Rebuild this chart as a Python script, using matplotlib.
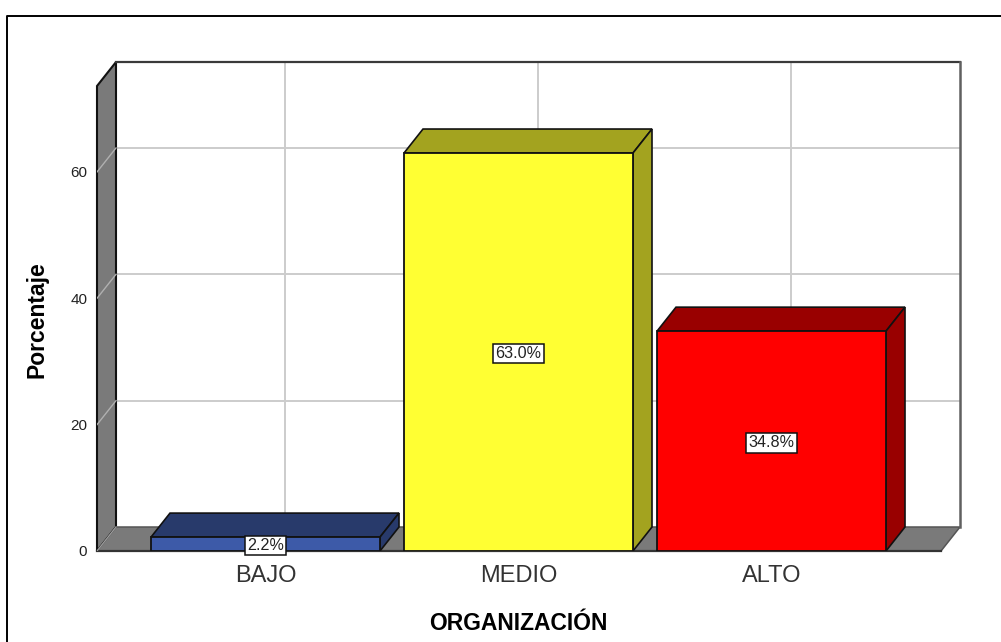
import matplotlib
matplotlib.use('Agg')
import matplotlib.pyplot as plt
from matplotlib.lines import Line2D
from matplotlib.patches import Polygon

plt.rcParams['font.family'] = ['Liberation Sans', 'DejaVu Sans']

# datos
categorias = ['BAJO', 'MEDIO', 'ALTO']
porcentajes = [2.2, 63.0, 34.8]
etiquetas = ['2.2%', '63.0%', '34.8%']
y_ticks = [0, 20, 40, 60]
col_frente = ['#3d5aa8', '#ffff33', '#ff0000']
col_lado = ['#283a6b', '#a3a31f', '#990000']

W, H = 1001, 642
fig = plt.figure(figsize=(W / 100, H / 100), dpi=100, facecolor='white')

# marco exterior: solo arriba y a la izquierda
fig.add_artist(Line2D([6.5 / W, 6.5 / W, 1], [0, 1 - 16 / H, 1 - 16 / H], transform=fig.transFigure,
                      color='black', linewidth=1.4))

# ejes en pixeles: izquierda 97, derecha 960, base 551, techo 62
ax = fig.add_axes([97 / W, 1 - 551 / H, 863 / W, 489 / H])
px_x = 253.0     # pixeles por categoria
px_y = 6.317     # pixeles por unidad
ax.set_xlim((97 - 265.5) / px_x, (960 - 265.5) / px_x)
ax.set_ylim(0, 489 / px_y)
dx = 19 / px_x   # profundidad 3D
dy = 24 / px_y
x0, x1 = ax.get_xlim()
y1 = ax.get_ylim()[1]
xf = x1 - dx     # borde derecho del suelo frontal
yf = y1 - dy     # techo de la pared lateral
ancho = 229 / px_x

gris = '#7a7a7a'
rejilla = '#cccccc'

# pared lateral y suelo
ax.add_patch(Polygon([(x0, 0), (x0 + dx, dy), (x0 + dx, y1), (x0, yf)], closed=True,
                     facecolor=gris, edgecolor='#111111', linewidth=1.5, zorder=2, clip_on=False))
ax.add_patch(Polygon([(x0, 0), (xf, 0), (x1, dy), (x0 + dx, dy)], closed=True,
                     facecolor=gris, edgecolor='#555555', linewidth=1.1, zorder=2, clip_on=False))
ax.plot([x0 + dx, x1], [y1, y1], color='#3a3a3a', linewidth=1.6, zorder=3, clip_on=False)
ax.plot([x1, x1], [y1, dy], color='#606060', linewidth=1.8, zorder=3, clip_on=False)
ax.plot([x0, xf], [0, 0], color='#333333', linewidth=1.6, zorder=3, clip_on=False)

# rejilla
for t in y_ticks[1:]:
    ax.plot([x0 + dx, x1], [t + dy, t + dy], color=rejilla, linewidth=1.4, zorder=1)
    ax.plot([x0, x0 + dx], [t, t + dy], color='#b0b0b0', linewidth=1.0, zorder=3)
ax.plot([x0, x0 + dx], [0, dy], color='#a0a0a0', linewidth=0.8, zorder=3)
for i in range(len(categorias)):
    ax.plot([i + dx, i + dx], [dy, y1], color=rejilla, linewidth=1.4, zorder=1)

# barras 3D
for i, v in enumerate(porcentajes):
    a, b = i - ancho / 2, i + ancho / 2
    ax.bar(i, v, width=ancho, color=col_frente[i], edgecolor='#111111', linewidth=1.3, zorder=5)
    ax.add_patch(Polygon([(a, v), (b, v), (b + dx, v + dy), (a + dx, v + dy)], closed=True,
                         facecolor=col_lado[i], edgecolor='#111111', linewidth=1.2, zorder=4))
    ax.add_patch(Polygon([(b, 0), (b + dx, dy), (b + dx, v + dy), (b, v)], closed=True,
                         facecolor=col_lado[i], edgecolor='#111111', linewidth=1.2, zorder=4))
    ax.text(i, v / 2, etiquetas[i], ha='center', va='center_baseline', fontsize=11.6, color='#222222', zorder=6,
            bbox=dict(boxstyle='square,pad=0.15', facecolor='white', edgecolor='#111111', linewidth=1.1))

# ticks y textos
for s in ax.spines.values():
    s.set_visible(False)
ax.patch.set_alpha(0)
ax.set_xticks(range(len(categorias)))
ax.set_xticklabels(categorias, fontsize=17, color='#333333')
ax.set_yticks(y_ticks)
ax.set_yticklabels(y_ticks, fontsize=11, color='#222222')
ax.tick_params(axis='x', length=0, pad=10)
ax.tick_params(axis='y', length=0, pad=7)
ax.set_xlabel('ORGANIZACIÓN', fontsize=16.5, fontweight='bold')
ax.xaxis.set_label_coords((518 - 97) / 863, -(612 - 551) / 489, transform=ax.transAxes)
ax.set_ylabel('Porcentaje', fontsize=16.5, fontweight='bold')
ax.yaxis.set_label_coords(-(97 - 48) / 863, (551 - 320) / 489, transform=ax.transAxes)

plt.savefig('out.png', dpi=100, facecolor='white')
plt.close()
